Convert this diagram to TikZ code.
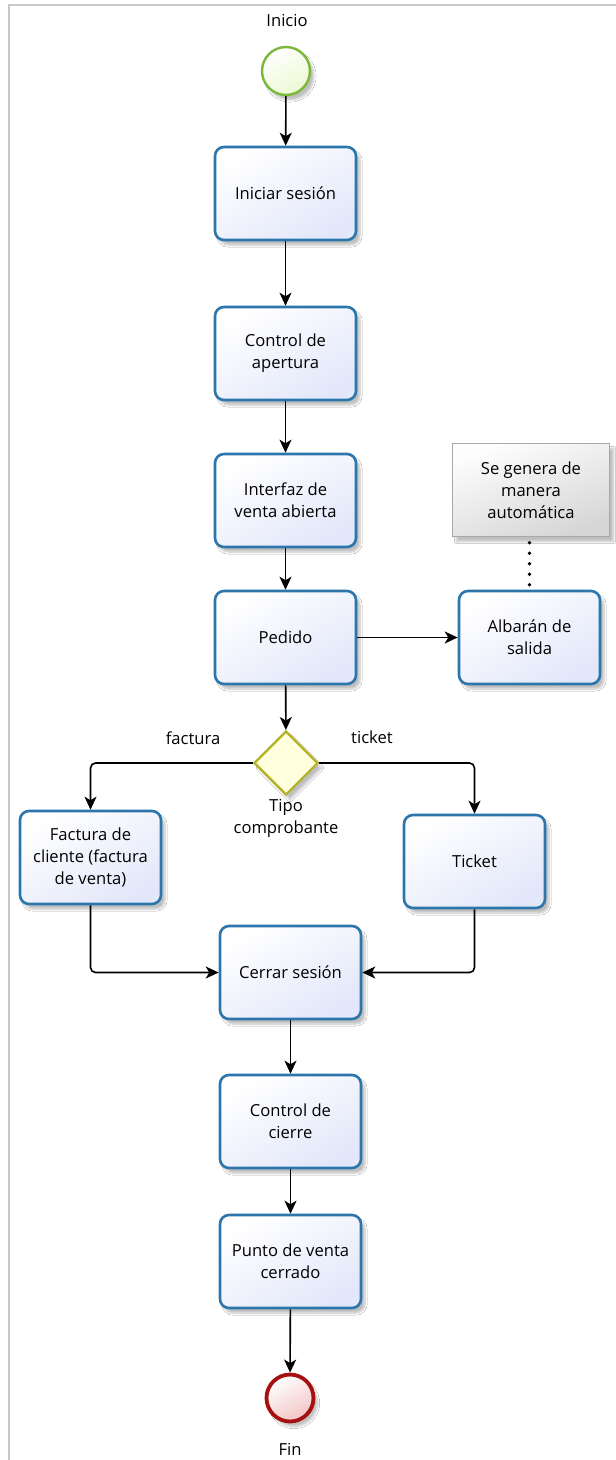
\documentclass[tikz,border=0pt]{standalone}
\usepackage{fontspec}
\setmainfont{Open Sans}
\usetikzlibrary{shapes.geometric,arrows.meta,shadows.blur}
\definecolor{boxblue}{RGB}{44,118,172}
\definecolor{boxfill}{RGB}{226,231,250}
\definecolor{startgreen}{RGB}{122,184,58}
\definecolor{startfill}{RGB}{236,248,210}
\definecolor{endred}{RGB}{165,16,16}
\definecolor{endfill}{RGB}{242,196,196}
\definecolor{gwborder}{RGB}{178,178,34}
\definecolor{gwfill}{RGB}{255,255,222}
\definecolor{notebord}{RGB}{168,168,168}
\definecolor{notefill}{RGB}{214,214,214}
\definecolor{framegray}{RGB}{200,200,200}
\tikzset{
  txt/.style={font=\fontsize{16.6}{22}\selectfont, align=center},
  task/.style={txt, rectangle, rounded corners=9pt, minimum width=141pt, minimum height=93pt,
    draw=boxblue, line width=2.6pt, top color=white, bottom color=boxfill, shading angle=30,
    blur shadow={shadow xshift=4pt, shadow yshift=-5pt, shadow opacity=25, shadow blur steps=6}},
  startev/.style={circle, minimum size=48pt, inner sep=0pt, draw=startgreen, line width=2.4pt,
    top color=white, bottom color=startfill, shading angle=30,
    blur shadow={shadow xshift=4pt, shadow yshift=-5pt, shadow opacity=25, shadow blur steps=6}},
  endev/.style={circle, minimum size=47pt, inner sep=0pt, draw=endred, line width=3.8pt,
    top color=white, bottom color=endfill, shading angle=30,
    blur shadow={shadow xshift=4pt, shadow yshift=-5pt, shadow opacity=25, shadow blur steps=6}},
  gateway/.style={diamond, minimum width=64pt, minimum height=64pt, inner sep=0pt, draw=gwborder,
    line width=2.2pt, fill=gwfill,
    blur shadow={shadow xshift=4pt, shadow yshift=-5pt, shadow opacity=25, shadow blur steps=6}},
  note/.style={txt, rectangle, minimum width=157pt, minimum height=93pt, draw=notebord, line width=1pt,
    top color=white!96!notefill, bottom color=notefill, shading angle=20,
    blur shadow={shadow xshift=4pt, shadow yshift=-5pt, shadow opacity=25, shadow blur steps=6}},
  flow/.style={line width=1.6pt, -{Stealth[length=13pt,width=12pt,inset=3.5pt]}},
  assoc/.style={line width=3.6pt, line cap=round, dash pattern=on 0pt off 10.5pt}
}
\begin{document}
\begin{tikzpicture}[x=1pt,y=-1pt]
\useasboundingbox (0,0) rectangle (616,1460);
\fill[white] (0,0) rectangle (616,1460);
\draw[framegray, line width=2pt] (616,5) -- (9,5) -- (9,1460);

\node[txt] (lbini) at (287,20) {Inicio};
\node[startev] (start) at (286,71) {};
\node[task] (s1) at (285.5,193.5) {Iniciar sesión};
\node[task] (s2) at (285.5,353.5) {Control de\\apertura};
\node[task] (s3) at (285.5,500.5) {Interfaz de\\venta abierta};
\node[task] (s4) at (285.5,637.5) {Pedido};
\node[task] (alb) at (529.5,637.5) {Albarán de\\salida};
\node[note] (nt) at (531,490) {Se genera de\\manera\\automática};
\node[gateway] (gw) at (286,763) {};
\node[txt] (lbtipo) at (286,818) {Tipo\\comprobante};
\node[txt] (lbfac) at (193,738) {factura};
\node[txt] (lbtic) at (372,737) {ticket};
\node[task] (fac) at (90.5,857.5) {Factura de\\cliente (factura\\de venta)};
\node[task] (tic) at (474.5,861.5) {Ticket};
\node[task] (cer) at (290.5,972.5) {Cerrar sesión};
\node[task] (cc) at (290.5,1121.5) {Control de\\cierre};
\node[task] (pv) at (290.5,1261.5) {Punto de venta\\cerrado};
\node[endev] (fin) at (290,1398) {};
\node[txt] (lbfin) at (290,1449) {Fin};

\draw[flow] (start) -- (s1);
\draw[flow] (s1) -- (s2);
\draw[flow] (s2) -- (s3);
\draw[flow] (s3) -- (s4);
\draw[flow] (s4) -- (alb);
\draw[assoc] (alb.north) ++(0,-5) -- ([yshift=-5pt]alb.north |- nt.south);
\draw[flow] (s4) -- (gw);
\draw[flow, rounded corners=5pt] (gw.west) -| (fac.north);
\draw[flow, rounded corners=5pt] (gw.east) -| (tic.north);
\draw[flow, rounded corners=5pt] (fac.south) |- (cer.west);
\draw[flow, rounded corners=5pt] (tic.south) |- (cer.east);
\draw[flow] (cer) -- (cc);
\draw[flow] (cc) -- (pv);
\draw[flow] (pv) -- (fin);
\end{tikzpicture}
\end{document}
